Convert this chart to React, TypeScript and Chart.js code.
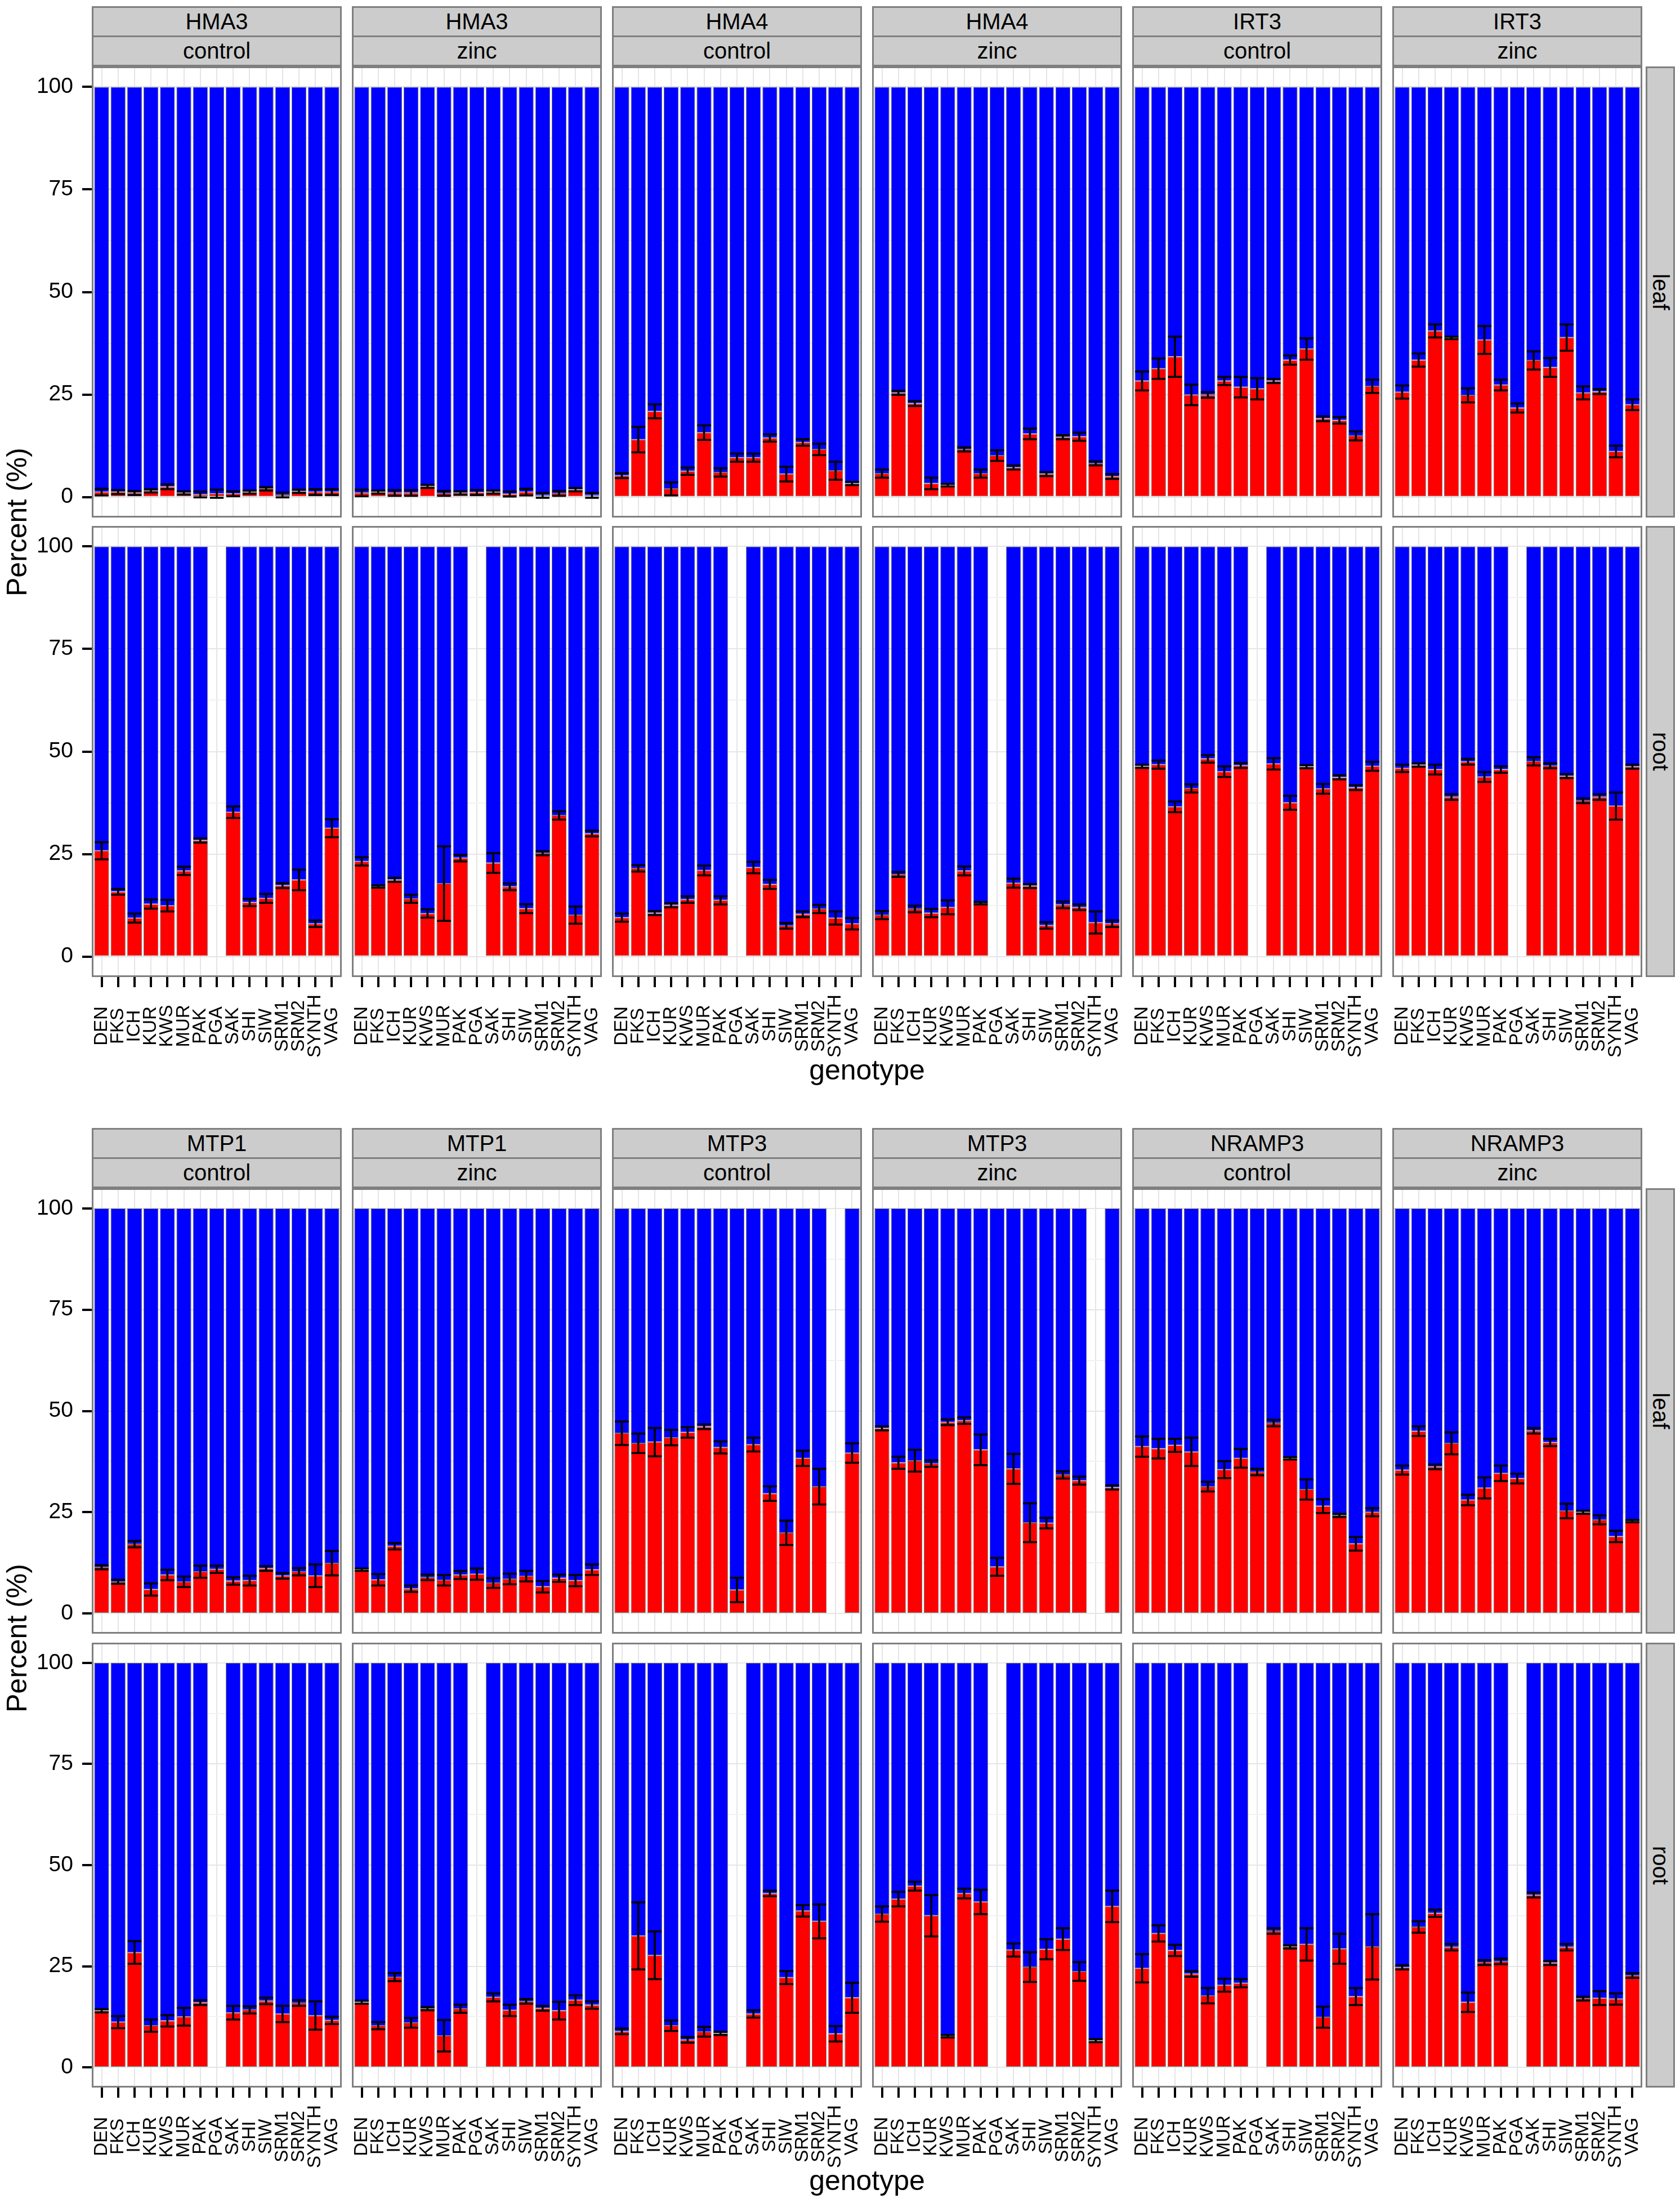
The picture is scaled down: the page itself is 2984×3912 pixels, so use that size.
import React, { useEffect, useRef } from "react";
import { Chart, registerables } from "chart.js";

Chart.register(...registerables);

// ---------------- data ----------------
const genotypes = ["DEN", "FKS", "ICH", "KUR", "KWS", "MUR", "PAK", "PGA", "SAK", "SHI", "SIW", "SRM1", "SRM2", "SYNTH", "VAG"];
const yTickValues = [0, 25, 50, 75, 100];
const yMinorValues = [12.5, 37.5, 62.5, 87.5];
const genesTop = ["HMA3", "HMA4", "IRT3"];
const genesBottom = ["MTP1", "MTP3", "NRAMP3"];
const treatments = ["control", "zinc"];
const tissues = ["leaf", "root"];
const xTitle = "genotype";
const yTitle = "Percent (%)";

type V = (number | null)[];

// HMA3
const hma3ControlLeaf: V = [1.2, 1.2, 1.0, 1.5, 2.5, 1.0, 0.6, 0.8, 0.8, 1.2, 2.0, 0.5, 1.4, 1.2, 1.2];
const hma3ControlLeafSe: V = [0.8, 0.5, 0.5, 0.4, 0.6, 0.4, 0.7, 1.0, 0.6, 0.4, 0.4, 0.6, 0.4, 0.7, 0.7];
const hma3ZincLeaf: V = [1.0, 1.2, 1.0, 1.0, 2.6, 0.9, 1.0, 1.1, 1.2, 0.7, 1.2, 0.4, 0.9, 1.8, 0.4];
const hma3ZincLeafSe: V = [0.8, 0.4, 0.7, 0.7, 0.4, 0.6, 0.4, 0.6, 0.4, 0.6, 0.8, 0.6, 0.6, 0.4, 0.6];
const hma3ControlRoot: V = [25.8, 15.8, 9.4, 12.8, 12.4, 20.9, 28.3, null, 35.2, 13.2, 14.2, 17.3, 18.7, 8.0, 31.3];
const hma3ControlRootSe: V = [2.1, 0.7, 1.1, 1.1, 1.4, 1.0, 0.5, null, 1.4, 0.9, 1.1, 0.6, 2.5, 0.8, 2.2];
const hma3ZincRoot: V = [23.2, 17.1, 18.7, 14.1, 10.5, 17.8, 24.0, null, 22.8, 17.0, 11.7, 25.2, 34.4, 10.1, 30.0];
const hma3ZincRootSe: V = [1.0, 0.3, 0.5, 1.0, 1.0, 9.1, 0.8, null, 2.4, 0.8, 1.1, 0.5, 1.0, 2.1, 0.7];

// HMA4
const hma4ControlLeaf: V = [5.2, 14.0, 20.9, 2.0, 6.3, 15.7, 6.0, 9.6, 9.6, 14.4, 5.6, 13.3, 11.6, 6.4, 3.3];
const hma4ControlLeafSe: V = [0.6, 3.1, 1.7, 1.6, 0.9, 1.8, 1.0, 1.0, 1.0, 0.9, 1.8, 0.8, 1.4, 2.2, 0.4];
const hma4ZincLeaf: V = [5.7, 25.4, 22.8, 3.3, 2.9, 11.6, 5.7, 10.1, 7.2, 15.4, 5.6, 14.6, 14.7, 8.2, 5.0];
const hma4ZincLeafSe: V = [1.0, 0.5, 0.6, 1.4, 0.3, 0.5, 1.0, 1.3, 0.5, 1.3, 0.5, 0.5, 1.0, 0.5, 0.6];
const hma4ControlRoot: V = [9.5, 21.5, 10.6, 12.5, 13.9, 21.0, 13.7, null, 21.7, 17.6, 7.5, 10.3, 11.6, 9.4, 8.0];
const hma4ControlRootSe: V = [1.0, 0.8, 0.5, 0.5, 0.8, 1.2, 1.0, null, 1.4, 1.1, 0.7, 0.7, 1.0, 1.6, 1.4];
const hma4ZincRoot: V = [10.1, 20.0, 11.6, 10.6, 12.0, 20.9, 13.0, null, 17.9, 17.2, 7.6, 12.6, 12.0, 8.3, 8.0];
const hma4ZincRootSe: V = [1.0, 0.6, 0.8, 1.0, 1.7, 1.1, 0.3, null, 1.1, 0.5, 0.8, 0.8, 0.7, 2.7, 0.8];

// IRT3
const irt3ControlLeaf: V = [28.3, 31.3, 34.2, 24.9, 24.9, 28.3, 26.8, 26.4, 28.3, 33.4, 36.1, 19.1, 18.7, 14.9, 27.0];
const irt3ControlLeafSe: V = [2.3, 2.5, 4.9, 2.5, 0.7, 1.0, 2.5, 2.6, 0.5, 1.1, 2.6, 0.6, 0.8, 1.1, 1.6];
const irt3ZincLeaf: V = [25.6, 33.4, 40.5, 38.8, 24.8, 38.3, 27.3, 21.7, 33.3, 31.6, 38.9, 25.4, 25.7, 11.1, 22.5];
const irt3ZincLeafSe: V = [1.6, 1.6, 1.6, 0.3, 1.7, 3.4, 1.3, 1.1, 2.2, 2.3, 3.2, 1.6, 0.6, 1.4, 1.3];
const irt3ControlRoot: V = [46.4, 46.8, 36.5, 41.0, 48.2, 45.1, 46.6, null, 47.0, 37.5, 46.3, 40.9, 43.7, 41.2, 46.4];
const irt3ControlRootSe: V = [0.4, 1.0, 1.3, 1.0, 0.9, 1.3, 0.6, null, 1.4, 1.7, 0.4, 1.2, 0.5, 0.6, 1.1];
const irt3ZincRoot: V = [45.9, 46.7, 45.6, 38.9, 47.5, 43.8, 45.6, null, 47.6, 46.5, 44.0, 38.0, 38.9, 36.7, 46.3];
const irt3ZincRootSe: V = [0.9, 0.4, 1.2, 0.7, 0.7, 1.2, 0.8, null, 1.0, 0.6, 0.5, 0.6, 0.7, 3.3, 0.5];

// MTP1
const mtp1ControlLeaf: V = [11.4, 7.8, 17.1, 5.9, 9.5, 7.8, 10.3, 10.9, 8.0, 8.1, 11.1, 9.3, 10.3, 9.3, 12.4];
const mtp1ControlLeafSe: V = [0.5, 0.5, 0.8, 1.5, 1.3, 1.3, 1.5, 0.9, 0.9, 1.2, 0.6, 0.7, 0.9, 2.8, 3.0];
const mtp1ZincLeaf: V = [10.8, 8.3, 16.6, 6.1, 8.9, 8.2, 9.5, 9.7, 7.5, 8.5, 9.2, 6.6, 8.7, 8.1, 10.8];
const mtp1ZincLeafSe: V = [0.3, 1.4, 0.8, 0.8, 0.7, 1.3, 1.0, 1.4, 1.2, 1.3, 1.3, 1.4, 0.9, 1.4, 1.3];
const mtp1ControlRoot: V = [14.0, 11.2, 28.4, 10.3, 11.5, 12.5, 16.0, null, 13.5, 14.2, 16.4, 13.2, 15.9, 12.8, 11.6];
const mtp1ControlRootSe: V = [0.4, 1.5, 2.8, 1.5, 1.4, 2.2, 0.6, null, 1.7, 0.9, 0.8, 2.0, 0.7, 3.5, 0.9];
const mtp1ZincRoot: V = [16.1, 10.3, 22.3, 11.0, 14.5, 7.8, 14.5, null, 17.3, 14.1, 16.3, 14.6, 14.0, 16.6, 15.4];
const mtp1ZincRootSe: V = [0.4, 0.9, 1.0, 1.2, 0.4, 3.9, 1.0, null, 1.0, 1.4, 0.6, 0.6, 2.2, 1.2, 0.9];

// MTP3
const mtp3ControlLeaf: V = [44.5, 42.0, 42.3, 43.4, 44.7, 46.1, 41.0, 5.8, 41.7, 29.6, 19.9, 38.3, 31.3, null, 39.6];
const mtp3ControlLeafSe: V = [2.9, 2.4, 3.5, 1.9, 1.3, 0.6, 1.5, 3.0, 1.7, 1.8, 3.0, 1.9, 4.4, null, 2.4];
const mtp3ZincLeaf: V = [45.7, 37.2, 37.7, 37.0, 47.2, 47.6, 40.4, 11.5, 35.7, 22.4, 22.3, 34.2, 32.8, null, 31.1];
const mtp3ZincLeafSe: V = [0.5, 1.5, 2.7, 0.8, 0.7, 0.8, 3.8, 2.2, 3.7, 4.8, 1.3, 0.9, 1.0, null, 0.5];
const mtp3ControlRoot: V = [8.9, 32.5, 27.7, 10.3, 6.8, 8.8, 8.4, null, 13.2, 43.0, 22.2, 38.7, 36.1, 8.3, 17.2];
const mtp3ControlRootSe: V = [0.7, 8.3, 5.9, 1.3, 0.7, 1.2, 0.4, null, 0.9, 0.7, 1.6, 1.4, 4.2, 1.9, 3.7];
const mtp3ZincRoot: V = [37.9, 41.6, 44.8, 37.5, 7.7, 43.0, 40.9, null, 29.0, 24.8, 29.2, 31.7, 23.7, 6.6, 39.8];
const mtp3ZincRootSe: V = [1.9, 1.8, 1.1, 5.1, 0.3, 1.2, 3.0, null, 1.6, 3.7, 2.5, 2.7, 2.3, 0.4, 3.9];

// NRAMP3
const nramp3ControlLeaf: V = [41.2, 40.7, 41.5, 39.9, 31.3, 35.5, 38.3, 34.9, 47.0, 38.3, 30.6, 26.5, 24.2, 17.2, 25.0];
const nramp3ControlLeafSe: V = [2.5, 2.4, 1.6, 3.5, 1.2, 2.1, 2.3, 0.8, 0.8, 0.3, 2.5, 1.7, 0.4, 1.7, 1.0];
const nramp3ZincLeaf: V = [35.4, 45.0, 36.2, 42.0, 28.0, 31.0, 34.6, 33.3, 45.1, 42.2, 25.3, 25.0, 23.1, 19.0, 22.8];
const nramp3ZincLeafSe: V = [1.1, 1.2, 0.6, 2.7, 1.3, 2.6, 1.9, 1.2, 0.7, 0.9, 1.8, 0.4, 1.1, 1.4, 0.3];
const nramp3ControlRoot: V = [24.5, 33.1, 28.9, 23.1, 17.7, 20.3, 20.8, null, 33.7, 29.8, 30.4, 12.4, 29.3, 17.5, 29.8];
const nramp3ControlRootSe: V = [3.5, 2.0, 1.4, 0.7, 1.9, 1.6, 1.0, null, 0.7, 0.4, 4.0, 2.6, 3.7, 2.1, 8.1];
const nramp3ZincRoot: V = [24.7, 34.7, 38.1, 29.7, 16.1, 25.9, 26.2, null, 42.6, 25.8, 29.7, 17.0, 17.1, 16.9, 22.7];
const nramp3ZincRootSe: V = [0.5, 1.4, 0.9, 0.8, 2.4, 0.6, 0.7, null, 0.6, 0.5, 0.8, 0.5, 1.7, 1.4, 0.6];

// facet table: [block][column] -> leaf/root series
const facetData: { leaf: V; leafSe: V; root: V; rootSe: V }[][] = [
  [
    { leaf: hma3ControlLeaf, leafSe: hma3ControlLeafSe, root: hma3ControlRoot, rootSe: hma3ControlRootSe },
    { leaf: hma3ZincLeaf, leafSe: hma3ZincLeafSe, root: hma3ZincRoot, rootSe: hma3ZincRootSe },
    { leaf: hma4ControlLeaf, leafSe: hma4ControlLeafSe, root: hma4ControlRoot, rootSe: hma4ControlRootSe },
    { leaf: hma4ZincLeaf, leafSe: hma4ZincLeafSe, root: hma4ZincRoot, rootSe: hma4ZincRootSe },
    { leaf: irt3ControlLeaf, leafSe: irt3ControlLeafSe, root: irt3ControlRoot, rootSe: irt3ControlRootSe },
    { leaf: irt3ZincLeaf, leafSe: irt3ZincLeafSe, root: irt3ZincRoot, rootSe: irt3ZincRootSe },
  ],
  [
    { leaf: mtp1ControlLeaf, leafSe: mtp1ControlLeafSe, root: mtp1ControlRoot, rootSe: mtp1ControlRootSe },
    { leaf: mtp1ZincLeaf, leafSe: mtp1ZincLeafSe, root: mtp1ZincRoot, rootSe: mtp1ZincRootSe },
    { leaf: mtp3ControlLeaf, leafSe: mtp3ControlLeafSe, root: mtp3ControlRoot, rootSe: mtp3ControlRootSe },
    { leaf: mtp3ZincLeaf, leafSe: mtp3ZincLeafSe, root: mtp3ZincRoot, rootSe: mtp3ZincRootSe },
    { leaf: nramp3ControlLeaf, leafSe: nramp3ControlLeafSe, root: nramp3ControlRoot, rootSe: nramp3ControlRootSe },
    { leaf: nramp3ZincLeaf, leafSe: nramp3ZincLeafSe, root: nramp3ZincRoot, rootSe: nramp3ZincRootSe },
  ],
];

// ---------------- layout ----------------
const FONT = '"Liberation Sans", Arial, Helvetica, sans-serif';
const FACET_LEFT = 163;
const FACET_PITCH = 462;
const FACET_W = 444;
const AXIS_W = 163;
const XAXIS_H = 160;
const LABEL_OFFSET = 87;
const STRIP_H = 55;
const RSTRIP_LEFT = 2923;
const RSTRIP_W = 52;
const blocks = [
  { genes: genesTop, stripTop: 11, rows: [{ top: 118, bottom: 919 }, { top: 934, bottom: 1735 }], titleY: 1900 },
  { genes: genesBottom, stripTop: 2003, rows: [{ top: 2110, bottom: 2901 }, { top: 2917, bottom: 3707 }], titleY: 3872 },
];

const facetPlugin = {
  id: "facet",
  afterDatasetsDraw(chart: any, _args: any, opts: any) {
    const { ctx } = chart;
    const x = chart.scales.x;
    const y = chart.scales.y;
    const meta = chart.getDatasetMeta(0);
    ctx.save();
    ctx.strokeStyle = "#000";
    ctx.lineWidth = 3.5;
    (opts.values as V).forEach((v, i) => {
      if (v == null) return;
      const e = (opts.se as V)[i] ?? 0;
      const cx = x.getPixelForValue(i);
      const bw = meta.data[i] ? meta.data[i].width : 26;
      const half = bw / 2 - 1;
      const yt = y.getPixelForValue(v + e);
      const yb = y.getPixelForValue(v - e);
      ctx.beginPath();
      ctx.moveTo(cx, yt);
      ctx.lineTo(cx, yb);
      ctx.moveTo(cx - half, yt);
      ctx.lineTo(cx + half, yt);
      ctx.moveTo(cx - half, yb);
      ctx.lineTo(cx + half, yb);
      ctx.stroke();
    });
    ctx.restore();
  },
  afterDraw(chart: any, _args: any, opts: any) {
    const { ctx, chartArea: a } = chart;
    const x = chart.scales.x;
    ctx.save();
    ctx.strokeStyle = "#7F7F7F";
    ctx.lineWidth = 3;
    ctx.strokeRect(a.left + 1.5, a.top + 1.5, a.right - a.left - 3, a.bottom - a.top - 3);
    if (opts.showX) {
      ctx.fillStyle = "#000";
      ctx.font = `33px ${FONT}`;
      ctx.textAlign = "center";
      ctx.textBaseline = "middle";
      x.ticks.forEach((_t: any, i: number) => {
        const px = x.getPixelForTick(i);
        ctx.save();
        ctx.translate(px, a.bottom + LABEL_OFFSET);
        ctx.rotate(-Math.PI / 2);
        ctx.fillText(String(chart.data.labels[i]), 0, 0);
        ctx.restore();
      });
    }
    ctx.restore();
  },
};

function Facet(props: { values: V; se: V; left: number; top: number; width: number; height: number; showY: boolean; showX: boolean }) {
  const { values, se, left, top, width, height, showY, showX } = props;
  const ref = useRef<HTMLCanvasElement>(null);
  useEffect(() => {
    if (!ref.current) return;
    const allY = [...yMinorValues, ...yTickValues].sort((a, b) => a - b);
    const chart = new Chart(ref.current, {
      type: "bar",
      data: {
        labels: genotypes,
        datasets: [
          {
            data: values as any,
            backgroundColor: "#FF0000",
            borderColor: "rgba(70,70,70,0.75)",
            borderWidth: 1,
            borderSkipped: false,
            barPercentage: 0.9,
            categoryPercentage: 1,
          },
          {
            data: values.map((v) => (v == null ? null : 100 - v)) as any,
            backgroundColor: "#0000FF",
            borderColor: "rgba(70,70,70,0.75)",
            borderWidth: 1,
            borderSkipped: false,
            barPercentage: 0.9,
            categoryPercentage: 1,
          },
        ],
      },
      options: {
        animation: false,
        responsive: false,
        maintainAspectRatio: false,
        devicePixelRatio: 1,
        layout: { padding: 0 },
        events: [],
        plugins: {
          legend: { display: false },
          tooltip: { enabled: false },
          title: { display: false },
          facet: { values, se, showX },
        } as any,
        scales: {
          x: {
            type: "category",
            stacked: true,
            offset: true,
            border: { display: false },
            grid: {
              offset: false,
              color: "#E5E5E5",
              lineWidth: 2,
              drawTicks: showX,
              tickLength: 18,
              tickColor: "#000",
              tickWidth: 4,
            } as any,
            ticks: { display: false },
            afterBuildTicks: (s: any) => {
              // ggplot discrete expansion: 0.6 category units each side
              s._startValue = -0.6;
              s._valueRange = genotypes.length - 1 + 1.2;
            },
            afterFit: (s: any) => {
              s.height = showX ? XAXIS_H : 0;
              s.paddingLeft = 0;
              s.paddingRight = 0;
            },
          } as any,
          y: {
            type: "linear",
            stacked: true,
            min: -5,
            max: 105,
            border: { display: false },
            afterBuildTicks: (s: any) => {
              s.ticks = allY.map((v) => ({ value: v }));
            },
            ticks: {
              display: showY,
              autoSkip: false,
              padding: 16,
              color: "#000",
              font: { family: FONT, size: 39 },
              callback: (v: any) => (yTickValues.includes(Number(v)) ? String(v) : ""),
            },
            grid: {
              color: (c: any) => (c.tick && yTickValues.includes(c.tick.value) ? "#E5E5E5" : "#F2F2F2"),
              lineWidth: 2,
              drawTicks: showY,
              tickLength: 17,
              tickWidth: 4,
              tickColor: (c: any) => (c.tick && yTickValues.includes(c.tick.value) ? "#000" : "rgba(0,0,0,0)"),
            } as any,
            afterFit: (s: any) => {
              s.width = showY ? AXIS_W : 0;
              s.paddingTop = 0;
              s.paddingBottom = 0;
            },
          } as any,
        },
      },
      plugins: [facetPlugin as any],
    });
    return () => chart.destroy();
  }, []);
  return (
    <canvas
      ref={ref}
      width={width}
      height={height}
      style={{ position: "absolute", left, top, width, height, display: "block" }}
    />
  );
}

const stripStyle: React.CSSProperties = {
  position: "absolute",
  boxSizing: "border-box",
  background: "#CCCCCC",
  border: "3px solid #7F7F7F",
  color: "#000",
  fontFamily: FONT,
  fontSize: 40,
  display: "flex",
  alignItems: "center",
  justifyContent: "center",
  whiteSpace: "nowrap",
};

export default function App() {
  const items: React.ReactNode[] = [];
  blocks.forEach((b, bi) => {
    for (let c = 0; c < 6; c++) {
      const fx = FACET_LEFT + c * FACET_PITCH;
      const gene = b.genes[Math.floor(c / 2)];
      const treat = treatments[c % 2];
      items.push(
        <div key={`g${bi}${c}`} style={{ ...stripStyle, left: fx, top: b.stripTop, width: FACET_W, height: STRIP_H }}>
          {gene}
        </div>
      );
      items.push(
        <div key={`t${bi}${c}`} style={{ ...stripStyle, left: fx, top: b.stripTop + STRIP_H - 3, width: FACET_W, height: STRIP_H }}>
          {treat}
        </div>
      );
      const d = facetData[bi][c];
      b.rows.forEach((r, ri) => {
        const showY = c === 0;
        const showX = ri === 1;
        const left = showY ? fx - AXIS_W : fx;
        const width = showY ? FACET_W + AXIS_W : FACET_W;
        const ph = r.bottom - r.top;
        const height = showX ? ph + XAXIS_H : ph;
        items.push(
          <Facet
            key={`f${bi}${c}${ri}`}
            values={ri === 0 ? d.leaf : d.root}
            se={ri === 0 ? d.leafSe : d.rootSe}
            left={left}
            top={r.top}
            width={width}
            height={height}
            showY={showY}
            showX={showX}
          />
        );
      });
    }
    b.rows.forEach((r, ri) => {
      items.push(
        <div
          key={`r${bi}${ri}`}
          style={{ ...stripStyle, left: RSTRIP_LEFT, top: r.top, width: RSTRIP_W, height: r.bottom - r.top, writingMode: "vertical-rl" }}
        >
          {tissues[ri]}
        </div>
      );
    });
    const cy = (b.rows[0].top + b.rows[1].bottom) / 2;
    items.push(
      <div
        key={`yt${bi}`}
        style={{
          position: "absolute",
          left: 30,
          top: cy,
          transform: "translate(-50%, -50%) rotate(-90deg)",
          fontFamily: FONT,
          fontSize: 50,
          color: "#000",
          whiteSpace: "nowrap",
        }}
      >
        {yTitle}
      </div>
    );
    items.push(
      <div
        key={`xt${bi}`}
        style={{
          position: "absolute",
          left: (FACET_LEFT + FACET_LEFT + 5 * FACET_PITCH + FACET_W) / 2,
          top: b.titleY,
          transform: "translate(-50%, -50%)",
          fontFamily: FONT,
          fontSize: 50,
          color: "#000",
          whiteSpace: "nowrap",
        }}
      >
        {xTitle}
      </div>
    );
  });
  return (
    <div style={{ position: "absolute", left: 0, top: 0, width: 2984, height: 3912, background: "#fff", overflow: "hidden" }}>
      {items}
    </div>
  );
}
